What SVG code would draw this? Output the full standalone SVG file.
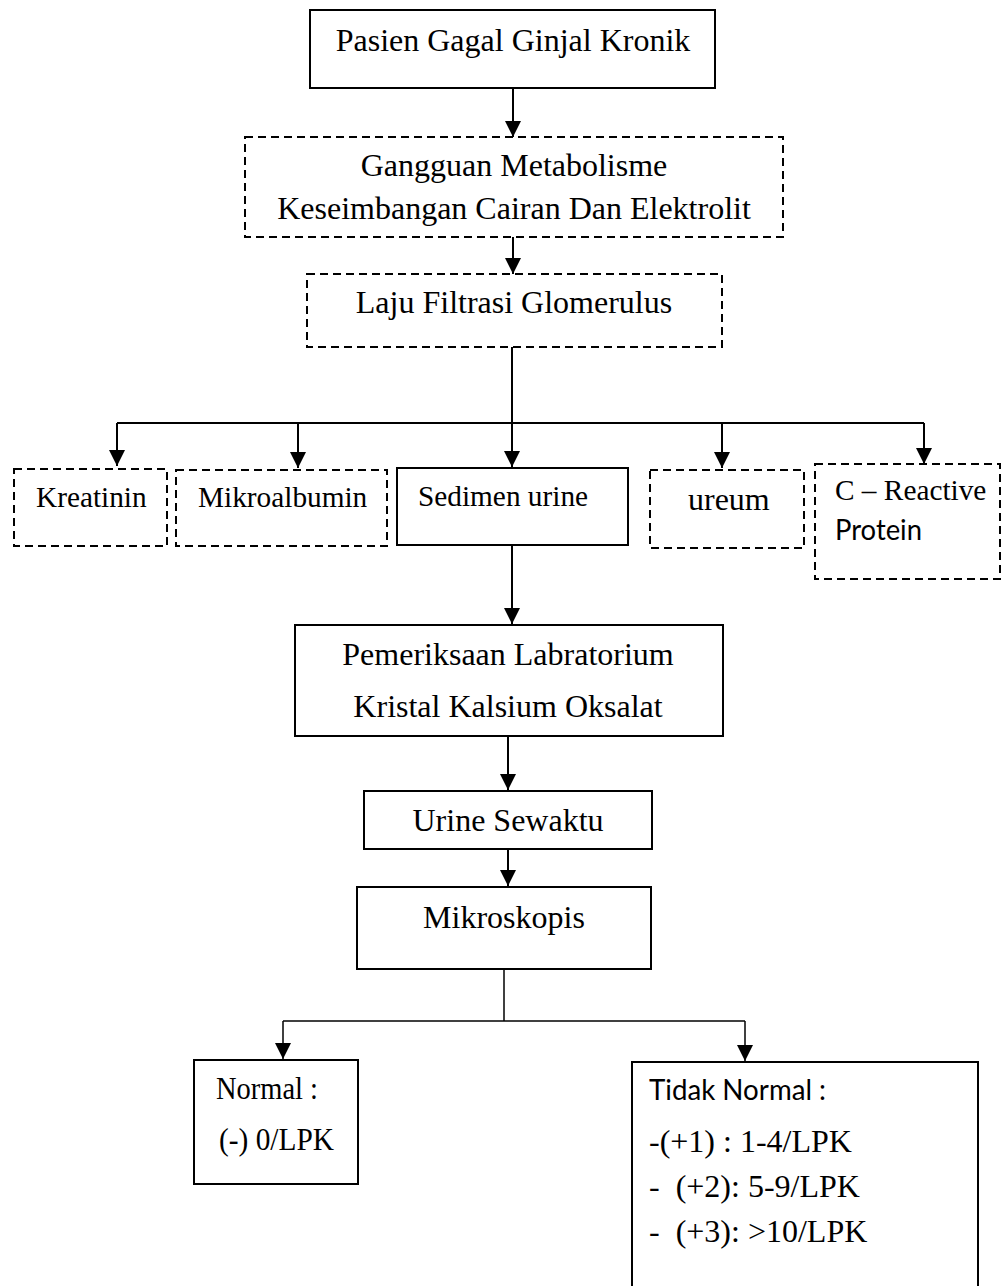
<svg xmlns="http://www.w3.org/2000/svg" width="1001" height="1286" viewBox="0 0 1001 1286">
<style>
.box{fill:#fff;stroke:#000;stroke-width:2}
.dbox{fill:#fff;stroke:#000;stroke-width:2;stroke-dasharray:8 5}
.t{font-family:"Liberation Serif","Times New Roman",serif;font-size:32px;fill:#000}
.ts{font-family:"Liberation Serif","Times New Roman",serif;font-size:29.3px;fill:#000}
.c{font-family:Lato,"Open Sans",sans-serif;font-size:29.3px;fill:#000}
.m{text-anchor:middle}
.ln{fill:none;stroke:#000;stroke-width:2}
.ln2{fill:none;stroke:#000;stroke-width:1.5}
</style>
<defs>
<marker id="ah" viewBox="0 0 16 16" refX="16" refY="8" markerWidth="16" markerHeight="16" orient="auto" markerUnits="userSpaceOnUse">
<path d="M0,0 L16,8 L0,16 z" fill="#000"/>
</marker>
</defs>
<g id="connectors">
<line class="ln" x1="513" y1="88" x2="513" y2="137" marker-end="url(#ah)"/>
<line class="ln" x1="513" y1="237" x2="513" y2="274" marker-end="url(#ah)"/>
<line class="ln" x1="512" y1="347" x2="512" y2="423"/>
<line class="ln" x1="117" y1="423" x2="924" y2="423"/>
<line class="ln" x1="117" y1="423" x2="117" y2="466" marker-end="url(#ah)"/>
<line class="ln" x1="298" y1="423" x2="298" y2="468" marker-end="url(#ah)"/>
<line class="ln" x1="512" y1="423" x2="512" y2="467" marker-end="url(#ah)"/>
<line class="ln" x1="722" y1="423" x2="722" y2="468" marker-end="url(#ah)"/>
<line class="ln" x1="924" y1="423" x2="924" y2="464" marker-end="url(#ah)"/>
<line class="ln" x1="512" y1="545" x2="512" y2="624" marker-end="url(#ah)"/>
<line class="ln" x1="508" y1="736" x2="508" y2="790" marker-end="url(#ah)"/>
<line class="ln" x1="508" y1="849" x2="508" y2="886" marker-end="url(#ah)"/>
<line class="ln2" x1="504" y1="969" x2="504" y2="1021"/>
<line class="ln2" x1="283" y1="1021" x2="745" y2="1021"/>
<line class="ln2" x1="283" y1="1021" x2="283" y2="1059" marker-end="url(#ah)"/>
<line class="ln2" x1="745" y1="1021" x2="745" y2="1061" marker-end="url(#ah)"/>
</g>
<g id="pasien">
<rect class="box" x="310" y="10" width="405" height="78"/>
<text class="t m" x="513" y="51">Pasien Gagal Ginjal Kronik</text>
</g>
<g id="gangguan">
<rect class="dbox" x="245" y="137" width="538" height="100"/>
<text class="t m" x="514" y="176">Gangguan Metabolisme</text>
<text class="t m" x="514" y="219">Keseimbangan Cairan Dan Elektrolit</text>
</g>
<g id="laju">
<rect class="dbox" x="307" y="274" width="415" height="73"/>
<text class="t m" x="514" y="313">Laju Filtrasi Glomerulus</text>
</g>
<g id="kreatinin">
<rect class="dbox" x="14" y="469" width="153" height="77"/>
<text class="ts" x="36" y="507">Kreatinin</text>
</g>
<g id="mikroalbumin">
<rect class="dbox" x="176" y="470" width="211" height="76"/>
<text class="ts" x="198" y="507">Mikroalbumin</text>
</g>
<g id="sedimen">
<rect class="box" x="397" y="468" width="231" height="77"/>
<text class="ts" x="418" y="506">Sedimen urine</text>
</g>
<g id="ureum">
<rect class="dbox" x="650" y="470" width="154" height="78"/>
<text class="t" x="688" y="510">ureum</text>
</g>
<g id="crp">
<rect class="dbox" x="815" y="464" width="185" height="115"/>
<text class="ts" x="835" y="500">C – Reactive</text>
<text class="c" x="835" y="540" textLength="87" lengthAdjust="spacingAndGlyphs">Protein</text>
</g>
<g id="pemeriksaan">
<rect class="box" x="295" y="625" width="428" height="111"/>
<text class="t m" x="508" y="665">Pemeriksaan Labratorium</text>
<text class="t m" x="508" y="717">Kristal Kalsium Oksalat</text>
</g>
<g id="urine">
<rect class="box" x="364" y="791" width="288" height="58"/>
<text class="t m" x="508" y="831">Urine Sewaktu</text>
</g>
<g id="mikroskopis">
<rect class="box" x="357" y="887" width="294" height="82"/>
<text class="t m" x="504" y="928">Mikroskopis</text>
</g>
<g id="normal">
<rect class="box" x="194" y="1060" width="164" height="124"/>
<text class="t" x="216" y="1099" textLength="102" lengthAdjust="spacingAndGlyphs">Normal :</text>
<text class="t" x="219" y="1150" textLength="115" lengthAdjust="spacingAndGlyphs">(-) 0/LPK</text>
</g>
<g id="tidaknormal">
<rect class="box" x="632" y="1062" width="346" height="240"/>
<text class="c" x="649" y="1100" textLength="177" lengthAdjust="spacingAndGlyphs">Tidak Normal :</text>
<text class="t" x="649" y="1152">-(+1) : 1-4/LPK</text>
<text class="t" x="649" y="1197" xml:space="preserve">-  (+2): 5-9/LPK</text>
<text class="t" x="649" y="1242" xml:space="preserve">-  (+3): &gt;10/LPK</text>
</g>
</svg>
